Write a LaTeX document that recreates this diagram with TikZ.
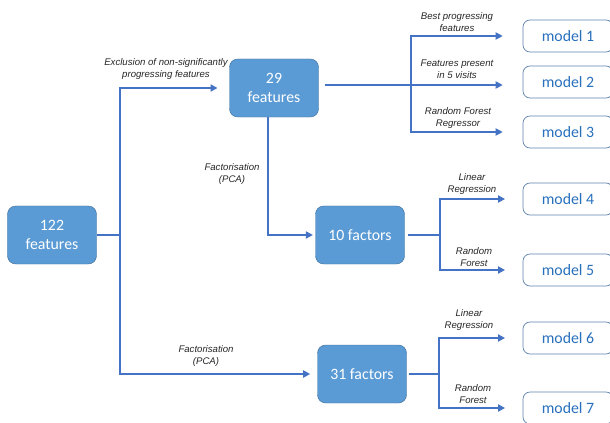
\documentclass[tikz,border=0pt]{standalone}
\usepackage{fontspec}
\setmainfont{Carlito}
\newfontfamily\lblfont{Liberation Sans}
\usetikzlibrary{arrows.meta}

\definecolor{boxblue}{RGB}{91,155,213}
\definecolor{boxedge}{RGB}{65,113,156}
\definecolor{linkblue}{RGB}{68,114,196}
\definecolor{modeltext}{RGB}{40,112,190}
\definecolor{modeledge}{RGB}{95,130,175}
\definecolor{lbltext}{RGB}{38,38,38}

\tikzset{
  setbox/.style={draw=boxedge, fill=boxblue, rounded corners=7pt, text=white,
    minimum width=2.67cm, minimum height=1.74cm, align=center,
    font=\fontsize{13.5}{16}\selectfont},
  modelbox/.style={draw=modeledge, fill=white, rounded corners=6pt, text=modeltext,
    line width=0.6pt, minimum width=2.7cm, minimum height=0.96cm,
    font=\fontsize{13.5}{16}\selectfont},
  lbl/.style={align=center, text=lbltext, inner sep=0pt,
    font=\lblfont\itshape\fontsize{8.2}{10.2}\selectfont},
  link/.style={draw=linkblue, line width=1.7pt},
  arr/.style={link, -{Triangle[length=6pt,width=6pt]}}
}

\begin{document}
\begin{tikzpicture}[x=0.03cm,y=-0.03cm]
  \useasboundingbox (0,0) rectangle (610,423);
  \clip (0,0) rectangle (610,423);

  \node[setbox] (f122) at (52,235) {122\\features};
  \node[setbox] (f29) at (274,88) {29\\features};
  \node[setbox] (f10) at (360,235) {10 factors};
  \node[setbox] (f31) at (362,374) {31 factors};
  \foreach \i/\y in {1/36,2/82,3/132,4/199,5/270,6/338,7/408}
    \node[modelbox] (m\i) at (568,\y) {model \i};

  \coordinate (s1) at (120,235);
  \coordinate (s2) at (411,85);
  \coordinate (s3) at (440,235);
  \coordinate (s4) at (439,374);

  \draw[link] (f122.east) -- (s1);
  \draw[arr, shorten >=10pt] (s1) |- (f29.west);
  \draw[arr, shorten >=6pt] (s1) |- (f31.west);
  \draw[arr, shorten >=2pt] ([xshift=-5pt]f29.south) |- (f10.west);

  \draw[link] ([xshift=5pt]f29.east |- s2) -- (s2);
  \draw[arr, shorten >=17pt] (s2) |- (m1.west);
  \draw[arr, shorten >=17pt] (s2) -- (s2 -| m2.west);
  \draw[arr, shorten >=17pt] (s2) |- (m3.west);

  \draw[link] ([xshift=3pt]f10.east) -- (s3);
  \draw[arr, shorten >=15pt] (s3) |- (m4.west);
  \draw[arr, shorten >=15pt] (s3) |- (m5.west);

  \draw[link] ([xshift=2pt]f31.east) -- (s4);
  \draw[arr, shorten >=15pt] (s4) |- (m6.west);
  \draw[arr, shorten >=15pt] (s4) |- (m7.west);

  \node[lbl] (lexcl) at (166,69) {Exclusion of non-significantly\\progressing features};
  \node[lbl] (lpca1) at (232,174) {Factorisation\\(PCA)};
  \node[lbl] (lpca2) at (206,356) {Factorisation\\(PCA)};
  \node[lbl] (lbest) at (457,22) {Best progressing\\features};
  \node[lbl] (lpres) at (457,69) {Features present\\in 5 visits};
  \node[lbl] (lrfr) at (458,118) {Random Forest\\Regressor};
  \node[lbl] (llr1) at (472,184) {Linear\\Regression};
  \node[lbl] (lrf1) at (474,257) {Random\\Forest};
  \node[lbl] (llr2) at (469,320) {Linear\\Regression};
  \node[lbl] (lrf2) at (473,394) {Random\\Forest};
\end{tikzpicture}
\end{document}
